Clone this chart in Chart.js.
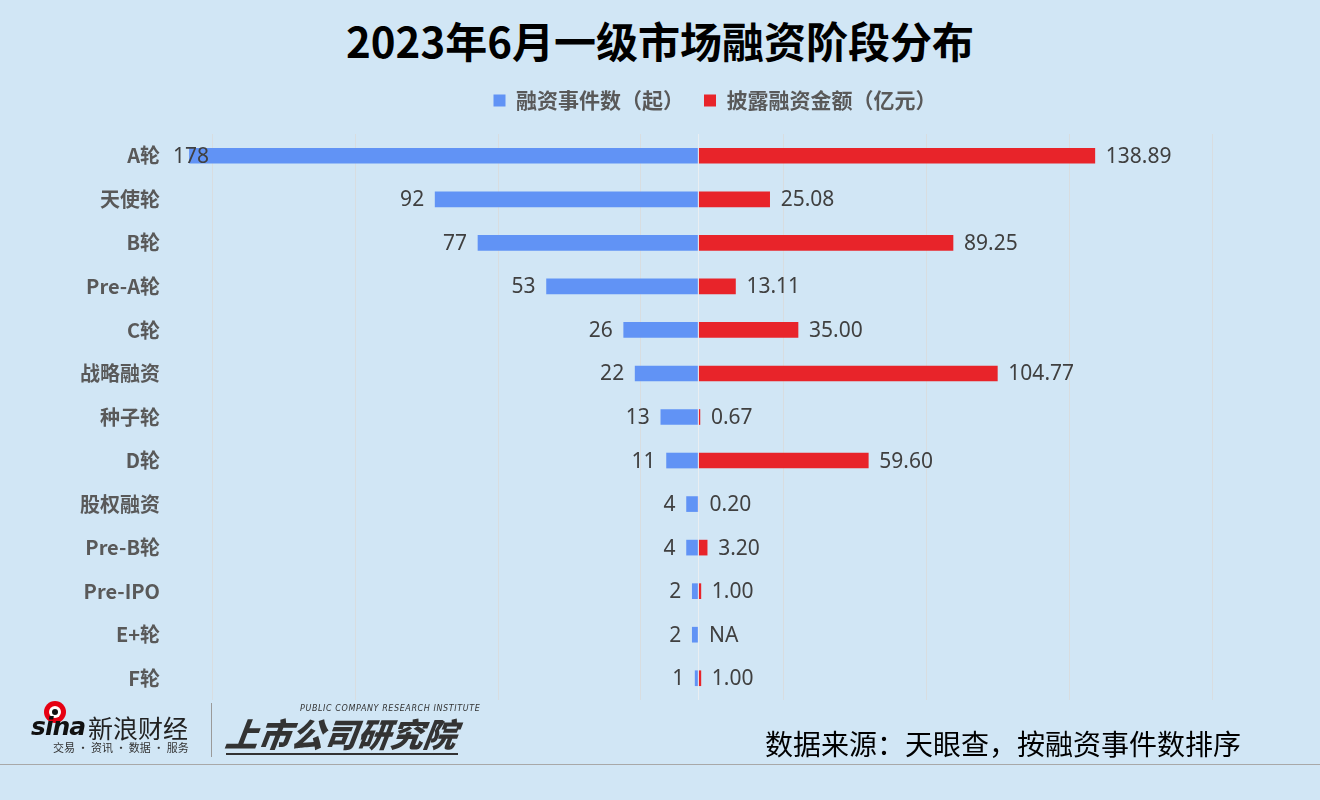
<!DOCTYPE html>
<html lang="zh">
  <head>
    <meta charset="UTF-8" />
    <title>2023年6月一级市场融资阶段分布</title>
    <script src="https://cdn.jsdelivr.net/npm/chart.js@4.4.0/dist/chart.umd.min.js"></script>
    <style>
      html, body { margin: 0; padding: 0; }
      body {
        width: 1320px; height: 800px; overflow: hidden; position: relative;
        background: #d1e6f5; font-family: "Noto Sans CJK SC", "Noto Sans", sans-serif;
      }
      #title {
        position: absolute; left: 0; width: 1320px; top: 18px; text-align: center;
        font-size: 42px; line-height: 44px; font-weight: 700; color: #000;
      }
      #chartBox { position: absolute; left: 0; top: 70px; width: 1320px; height: 655px; }
      #source {
        position: absolute; left: 765px; top: 726px; font-size: 28px; line-height: 34px; color: #000;
      }
      #baseLine { position: absolute; left: 0; top: 764px; width: 1320px; height: 1px; background: #a8a8a8; }
      .abs { position: absolute; white-space: nowrap; }
    </style>
  </head>
  <body>
    <div id="title">2023年6月一级市场融资阶段分布</div>
    <div id="chartBox"><canvas id="chart"></canvas></div>

    <!-- footer logos -->
    <div class="abs" style="left:44px;top:701px;width:22px;height:22px;border-radius:50%;background:#e60012;"></div>
    <div class="abs" style="left:49px;top:706px;width:12px;height:12px;border-radius:50%;background:#fff;"></div>
    <div class="abs" style="left:52px;top:709px;width:6px;height:6px;border-radius:50%;background:#111;"></div>
    <div class="abs" style="left:31px;top:712px;font:italic 700 25px 'DejaVu Sans';color:#111;letter-spacing:-1px;">sina</div>
    <div class="abs" style="left:88px;top:712px;font:400 25px 'Noto Sans CJK SC';color:#222;line-height:30px;">新浪财经</div>
    <div class="abs" style="left:53px;top:740px;font:400 11px 'Noto Sans CJK SC';color:#333;line-height:14px;">交易 · 资讯 · 数据 · 服务</div>
    <div class="abs" style="left:211px;top:703px;width:1px;height:54px;background:#9a9a9a;"></div>
    <div class="abs" style="left:300px;top:704px;font:italic 400 8px 'DejaVu Sans';color:#333;letter-spacing:0.6px;">PUBLIC COMPANY RESEARCH INSTITUTE</div>
    <div class="abs" style="left:226px;top:712px;font:italic 900 33px 'Noto Sans CJK SC';color:#333;line-height:42px;transform:skewX(-8deg);">上市公司研究院</div>
    <div class="abs" style="left:226px;top:753px;width:232px;height:2px;background:#333;"></div>

    <div id="source">数据来源：天眼查，按融资事件数排序</div>
    <div id="baseLine"></div>

    <script>
      const rounds = ["A轮", "天使轮", "B轮", "Pre-A轮", "C轮", "战略融资", "种子轮", "D轮", "股权融资", "Pre-B轮", "Pre-IPO", "E+轮", "F轮"];
      const dealCounts = [178, 92, 77, 53, 26, 22, 13, 11, 4, 4, 2, 2, 1];
      const amounts = [138.89, 25.08, 89.25, 13.11, 35.0, 104.77, 0.67, 59.6, 0.2, 3.2, 1.0, null, 1.0];
      const gridValues = [-170, -120, -70, -20, 0, 30, 80, 130, 180];

      const blue = "#6193f5";
      const red = "#e8242a";

      // grow the legend box so the plot starts where the reference plot starts
      const legendSpace = {
        id: "legendSpace",
        beforeInit(chart) {
          const fit = chart.legend.fit;
          chart.legend.fit = function () {
            fit.bind(chart.legend)();
            this.height = 64;
          };
        },
        afterLayout(chart) {
          // the reference legend sits a bit right of the page centre
          chart.legend.left += 110;
        },
      };

      // thin line at zero drawn over the bars, like the reference
      const zeroLine = {
        id: "zeroLine",
        afterDatasetsDraw(chart) {
          const { ctx, chartArea } = chart;
          const x0 = Math.round(chart.scales.x.getPixelForValue(0)) + 0.5;
          ctx.save();
          ctx.strokeStyle = "rgba(235,240,244,0.9)";
          ctx.lineWidth = 1;
          ctx.beginPath();
          ctx.moveTo(x0, chartArea.top);
          ctx.lineTo(x0, chartArea.bottom);
          ctx.stroke();
          ctx.restore();
        },
      };

      const valueLabels = {
        id: "valueLabels",
        afterDatasetsDraw(chart) {
          const { ctx, chartArea } = chart;
          const x0 = chart.scales.x.getPixelForValue(0);
          ctx.save();
          ctx.font = "21px 'Noto Sans', 'Open Sans', sans-serif";
          ctx.fillStyle = "#404040";
          ctx.textBaseline = "middle";

          chart.getDatasetMeta(0).data.forEach((bar, i) => {
            const txt = String(dealCounts[i]);
            const w = ctx.measureText(txt).width;
            let right = bar.x - 11;
            if (right - w < chartArea.left) right = chartArea.left + w;
            ctx.textAlign = "right";
            ctx.fillText(txt, right, bar.y + 1);
          });

          chart.getDatasetMeta(1).data.forEach((bar, i) => {
            const v = amounts[i];
            const txt = v == null ? "NA" : v.toFixed(2);
            const end = v == null ? x0 : Math.max(bar.x, x0);
            const y = chart.scales.y.getPixelForValue(i);
            ctx.textAlign = "left";
            ctx.fillText(txt, end + 11, y + 1);
          });
          ctx.restore();
        },
      };

      new Chart(document.getElementById("chart"), {
        type: "bar",
        data: {
          labels: rounds,
          datasets: [
            { label: "融资事件数（起）", data: dealCounts.map((v) => -v), backgroundColor: blue },
            { label: "披露融资金额（亿元）", data: amounts, backgroundColor: red },
          ],
        },
        options: {
          indexAxis: "y",
          responsive: true,
          maintainAspectRatio: false,
          animation: false,
          datasets: { bar: { barThickness: 15 } },
          layout: { padding: 0 },
          scales: {
            x: {
              stacked: true,
              min: -183.75,
              max: 217.7,
              afterBuildTicks(scale) {
                scale.ticks = gridValues.map((v) => ({ value: v }));
              },
              afterFit(scale) {
                scale.height = 0;
              },
              ticks: { display: false },
              grid: { color: "#d8dde0", lineWidth: 1, drawTicks: false },
              border: { display: false },
            },
            y: {
              stacked: true,
              afterFit(scale) {
                scale.width = 173;
              },
              ticks: {
                padding: 13,
                color: "#595959",
                font: { family: "'Noto Sans CJK SC', sans-serif", size: 20, weight: "bold" },
              },
              grid: { display: false, drawTicks: false },
              border: { display: false },
            },
          },
          plugins: {
            tooltip: { enabled: false },
            legend: {
              position: "top",
              labels: {
                boxWidth: 12,
                boxHeight: 12,
                padding: 20,
                color: "#595959",
                font: { family: "'Noto Sans CJK SC', sans-serif", size: 21, weight: "bold" },
              },
            },
          },
        },
        plugins: [legendSpace, zeroLine, valueLabels],
      });
    </script>
  </body>
</html>
